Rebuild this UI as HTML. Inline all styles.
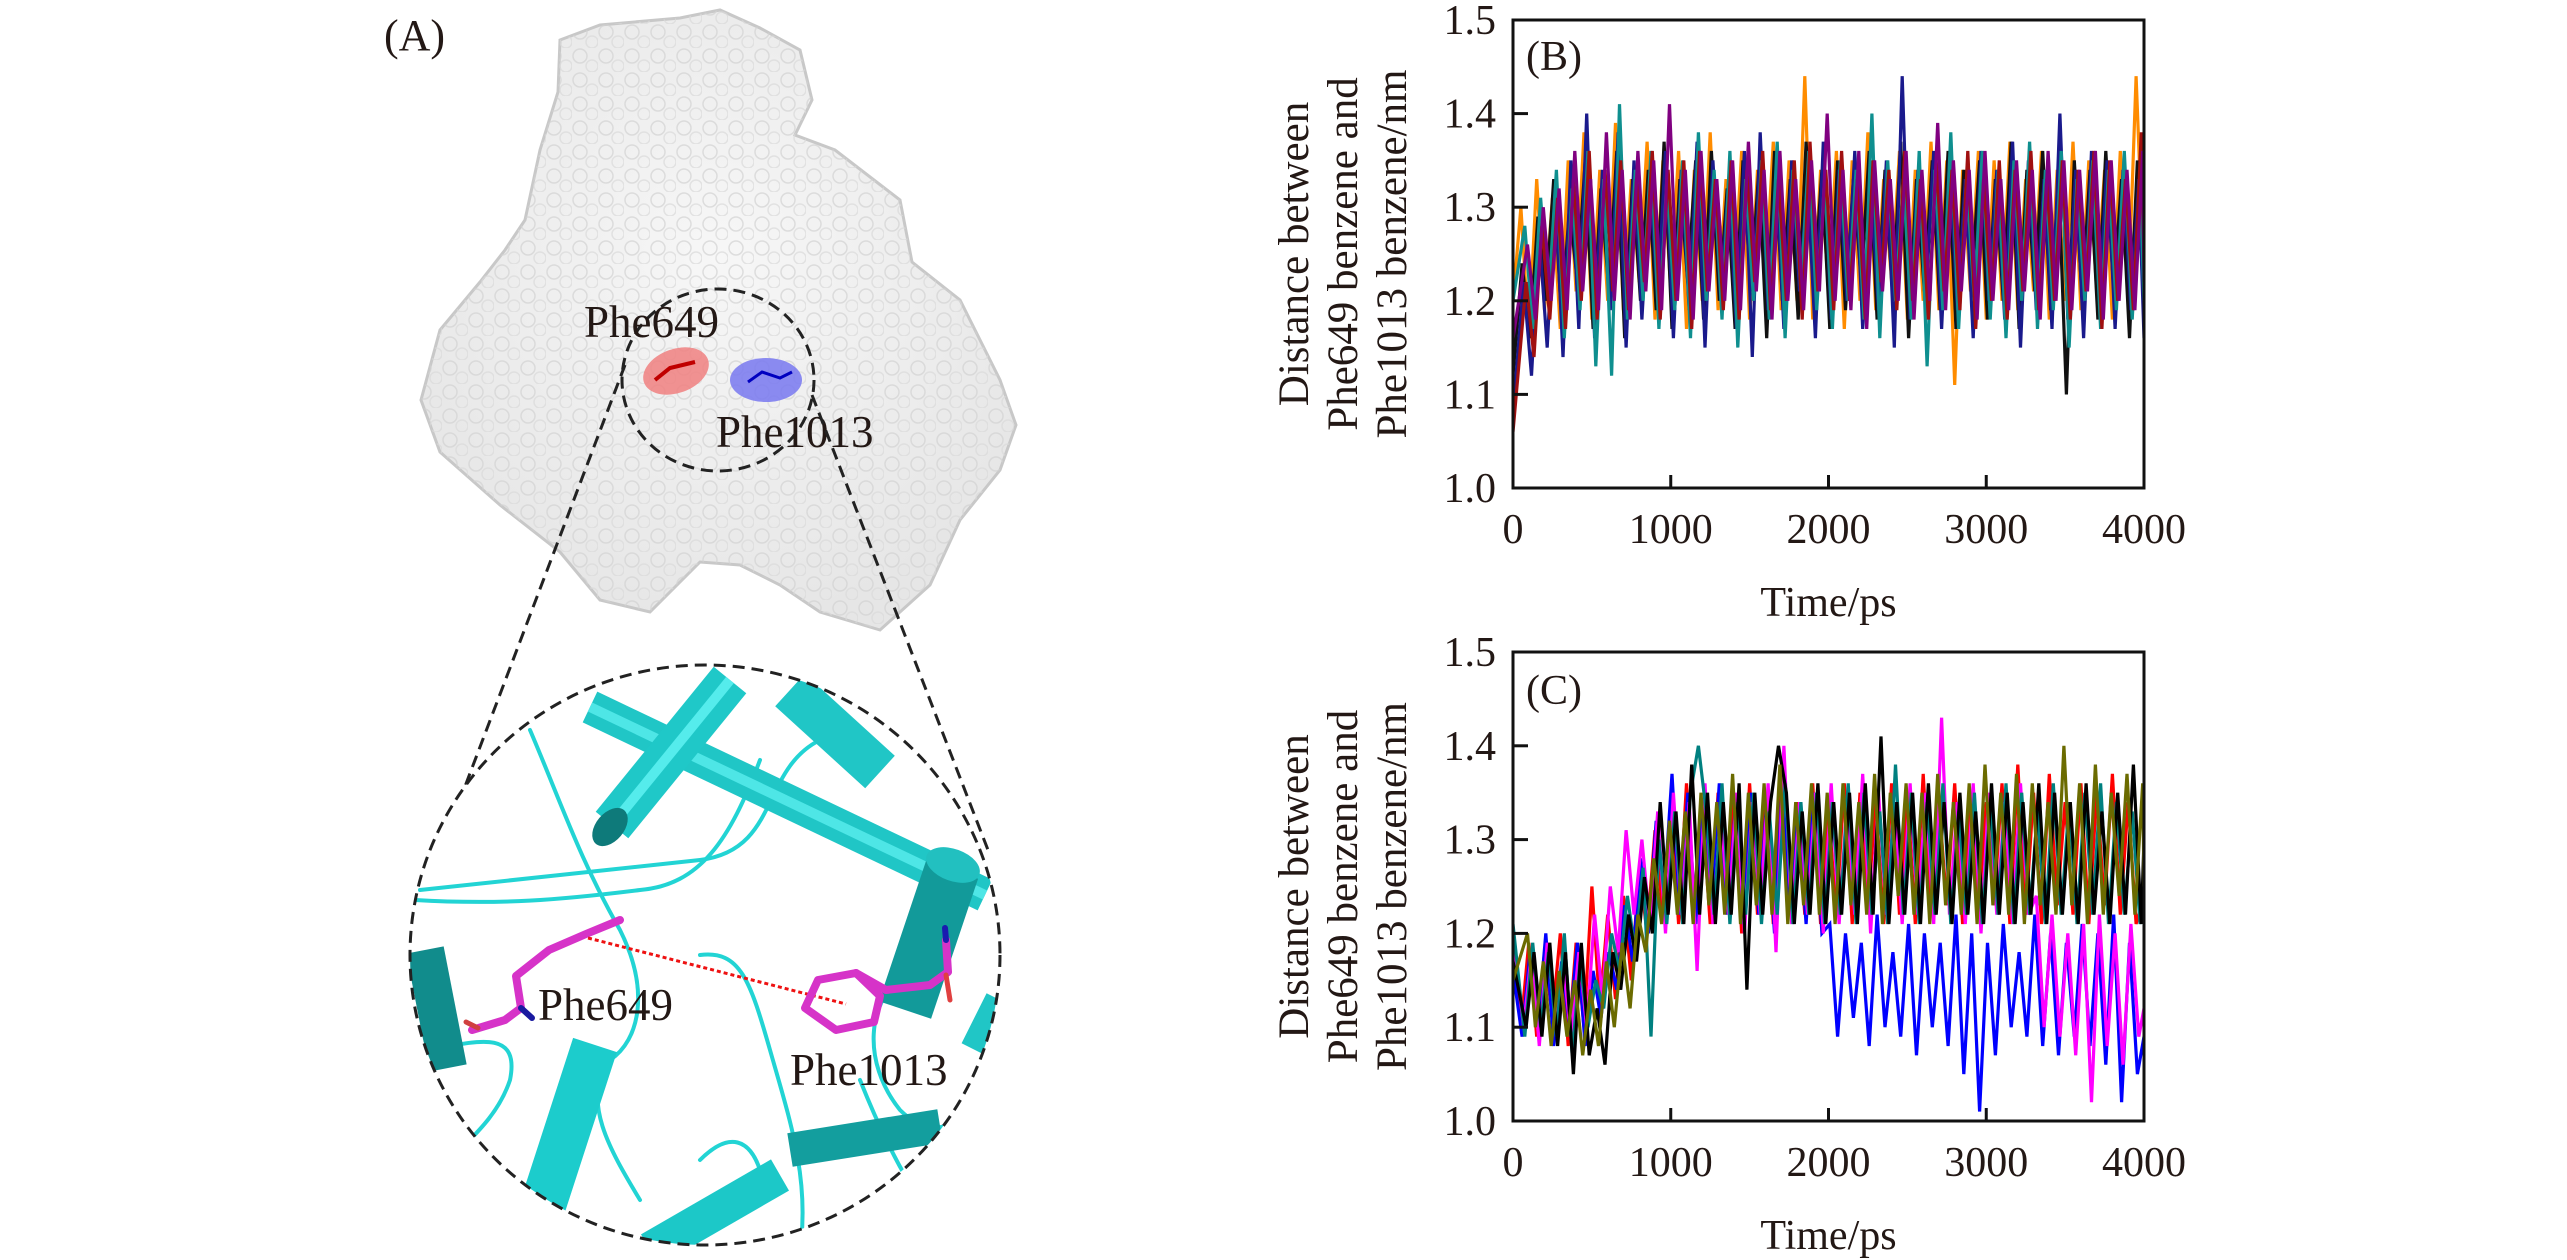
<!DOCTYPE html>
<html><head><meta charset="utf-8">
<style>
html,body{margin:0;padding:0;background:#fff;}
svg{display:block;}
text{font-family:"Liberation Serif",serif;fill:#231815;}
</style></head>
<body>
<svg id="fig" width="2567" height="1260" viewBox="0 0 2567 1260" xmlns="http://www.w3.org/2000/svg">
<defs>
  <radialGradient id="surf" cx="50%" cy="40%" r="60%">
    <stop offset="0" stop-color="#f7f7f7"/><stop offset="1" stop-color="#e6e6e6"/>
  </radialGradient>
  <pattern id="bumps" width="26" height="24" patternUnits="userSpaceOnUse">
    <circle cx="8" cy="8" r="7" fill="none" stroke="#d2d2d2" stroke-width="1.5"/>
    <circle cx="20" cy="18" r="6" fill="none" stroke="#dadada" stroke-width="1.5"/>
  </pattern>
  <clipPath id="bigclip"><ellipse cx="705" cy="955" rx="295" ry="290"/></clipPath>
  <clipPath id="clipB"><rect x="1513" y="20" width="631" height="468"/></clipPath>
  <clipPath id="clipC"><rect x="1513" y="652" width="631" height="469"/></clipPath>
</defs>

<!-- Panel A -->
<g>
  <text x="384" y="50" font-size="44">(A)</text>
  <g>
    <path d="M560,40 L600,25 L680,18 L720,10 L760,28 L800,50 L812,100 L795,135 L835,150 L900,200 L912,262 L960,300 L1000,380 L1016,425 L1000,470 L960,520 L930,585 L880,630 L820,612 L780,585 L740,565 L700,562 L650,612 L600,600 L560,552 L500,505 L440,452 L421,400 L440,330 L480,282 L505,250 L525,220 L540,150 L558,92 Z" fill="url(#surf)" stroke="#c8c8c8" stroke-width="3"/>
    <path d="M560,40 L600,25 L680,18 L720,10 L760,28 L800,50 L812,100 L795,135 L835,150 L900,200 L912,262 L960,300 L1000,380 L1016,425 L1000,470 L960,520 L930,585 L880,630 L820,612 L780,585 L740,565 L700,562 L650,612 L600,600 L560,552 L500,505 L440,452 L421,400 L440,330 L480,282 L505,250 L525,220 L540,150 L558,92 Z" fill="url(#bumps)" opacity="0.7"/>
  </g>
  <ellipse cx="676" cy="371" rx="34" ry="22" fill="#f08080" opacity="0.85" transform="rotate(-20 676 371)"/>
  <path d="M655,380 L670,368 L695,362" stroke="#c00000" stroke-width="4" fill="none"/>
  <ellipse cx="766" cy="380" rx="36" ry="22" fill="#7878f0" opacity="0.85"/>
  <path d="M748,382 L762,372 L780,378 L792,372" stroke="#0000c0" stroke-width="3" fill="none"/>
  <ellipse cx="718" cy="380" rx="96" ry="91" fill="none" stroke="#222" stroke-width="3" stroke-dasharray="12,7"/>
  <text x="584" y="337" font-size="45">Phe649</text>
  <text x="716" y="447" font-size="45">Phe1013</text>
  <line x1="625" y1="365" x2="420" y2="905" stroke="#222" stroke-width="3" stroke-dasharray="12,7"/>
  <line x1="812" y1="395" x2="988" y2="850" stroke="#222" stroke-width="3" stroke-dasharray="12,7"/>

  <g clip-path="url(#bigclip)">
    <ellipse cx="705" cy="955" rx="295" ry="290" fill="#fff"/>
    <g fill="none" stroke="#22d4d4" stroke-width="4" stroke-linecap="round">
      <path d="M420,890 C520,880 600,870 700,860 C780,850 760,770 820,740"/>
      <path d="M415,900 C500,905 560,900 640,890 C700,885 730,840 760,760"/>
      <path d="M530,730 C560,800 580,860 620,930 C650,990 640,1040 610,1060 C580,1100 610,1150 640,1200"/>
      <path d="M700,955 C740,950 750,980 770,1050 C790,1120 810,1180 800,1250"/>
      <path d="M860,1080 C880,1130 900,1170 920,1200"/>
      <path d="M430,1050 C480,1040 520,1030 510,1080 C500,1110 480,1130 460,1150"/>
      <path d="M900,980 C870,1000 860,1060 900,1110 C930,1140 960,1130 990,1090"/>
      <path d="M700,1160 C730,1130 750,1140 760,1170"/>
      <path d="M880,700 C930,720 960,780 990,800"/>
    </g>
    <g stroke-linecap="butt" fill="none">
      <line x1="590" y1="707" x2="985" y2="895" stroke="#20c6c6" stroke-width="34"/>
      <line x1="590" y1="707" x2="985" y2="895" stroke="#4ee6e6" stroke-width="10"/>
      <line x1="790" y1="690" x2="880" y2="772" stroke="#20c6c6" stroke-width="44"/>
      <line x1="612" y1="825" x2="730" y2="680" stroke="#1fc8c8" stroke-width="42"/>
      <line x1="612" y1="825" x2="730" y2="680" stroke="#55ecec" stroke-width="10"/>
      <ellipse cx="610" cy="827" rx="22" ry="14" fill="#0e7a7a" transform="rotate(-50 610 827)"/>
      <line x1="952" y1="870" x2="905" y2="1010" stroke="#129a9a" stroke-width="55"/>
      <ellipse cx="953" cy="865" rx="28" ry="16" fill="#22c0c0" transform="rotate(20 953 865)"/>
      <line x1="425" y1="950" x2="448" y2="1068" stroke="#118c8c" stroke-width="38"/>
      <line x1="595" y1="1045" x2="535" y2="1230" stroke="#1ccccc" stroke-width="46"/>
      <line x1="790" y1="1150" x2="940" y2="1126" stroke="#139e9e" stroke-width="34"/>
      <line x1="650" y1="1250" x2="780" y2="1175" stroke="#1cc8c8" stroke-width="36"/>
      <line x1="975" y1="1050" x2="1000" y2="1000" stroke="#20c6c6" stroke-width="30"/>
    </g>
    <g fill="none" stroke="#d633c8" stroke-width="8" stroke-linejoin="round" stroke-linecap="round">
      <polyline points="472,1030 505,1020 521,1008 516,976 549,950 586,934 620,920"/>
      <line x1="466" y1="1022" x2="478" y2="1028" stroke="#d04040" stroke-width="5"/>
      <line x1="521" y1="1008" x2="532" y2="1018" stroke="#1a1aa0" stroke-width="6"/>
    </g>
    <line x1="588" y1="938" x2="846" y2="1004" stroke="#ee1111" stroke-width="3" stroke-dasharray="4,3"/>
    <g fill="none" stroke="#d633c8" stroke-width="8" stroke-linejoin="round" stroke-linecap="round">
      <polygon points="818,980 856,973 880,996 874,1022 836,1030 805,1008"/>
      <polyline points="856,973 886,990 930,985 948,972 946,940"/>
      <line x1="946" y1="940" x2="945" y2="928" stroke="#1a1ab0" stroke-width="6"/>
      <line x1="946" y1="975" x2="950" y2="1000" stroke="#e04040" stroke-width="5"/>
    </g>
  </g>
  <ellipse cx="705" cy="955" rx="295" ry="290" fill="none" stroke="#222" stroke-width="3" stroke-dasharray="12,7"/>
  <text x="538" y="1020" font-size="45">Phe649</text>
  <text x="790" y="1085" font-size="45">Phe1013</text>
</g>

<g id="chartB"></g>
<g id="chartC"></g>
</svg>

<script>
const xTicks = [0, 1000, 2000, 3000, 4000];
const yTicks = [1.0, 1.1, 1.2, 1.3, 1.4, 1.5];
const yTickLabels = ["1.0", "1.1", "1.2", "1.3", "1.4", "1.5"];
const timeStep = 50;
const timeOffsetsB = [0, 8, 17, 25, 33, 42];
const timeOffsetsC = [0, 8, 17, 25, 33, 42];

const bSeriesNames = ["orange", "black", "navy", "teal", "darkred", "purple"];
const bColors = ["#ff8c00", "#111111", "#1a1a8c", "#0f8f8f", "#a01010", "#800080"];
const bOrange = [1.20,1.30,1.16,1.33,1.19,1.31,1.17,1.35,1.21,1.38,1.18,1.34,1.20,1.39,1.19,1.33,1.22,1.37,1.18,1.35,1.21,1.36,1.17,1.34,1.20,1.38,1.19,1.33,1.21,1.36,1.18,1.34,1.22,1.37,1.19,1.35,1.20,1.44,1.18,1.34,1.21,1.36,1.17,1.35,1.20,1.38,1.19,1.33,1.22,1.36,1.18,1.34,1.20,1.37,1.19,1.35,1.11,1.34,1.21,1.36,1.18,1.35,1.20,1.37,1.19,1.33,1.21,1.36,1.18,1.34,1.20,1.37,1.19,1.35,1.21,1.34,1.18,1.36,1.20,1.44,1.22];
const bBlack = [1.12,1.24,1.16,1.29,1.20,1.33,1.18,1.30,1.22,1.35,1.17,1.32,1.21,1.36,1.16,1.33,1.20,1.34,1.19,1.37,1.17,1.33,1.22,1.35,1.18,1.36,1.20,1.32,1.17,1.35,1.21,1.34,1.16,1.36,1.20,1.33,1.18,1.37,1.21,1.34,1.17,1.35,1.19,1.33,1.22,1.36,1.18,1.34,1.20,1.37,1.16,1.33,1.21,1.35,1.19,1.36,1.17,1.34,1.22,1.35,1.18,1.33,1.20,1.37,1.17,1.34,1.21,1.36,1.19,1.33,1.10,1.35,1.20,1.34,1.18,1.36,1.21,1.33,1.16,1.35,1.20];
const bNavy = [1.08,1.22,1.12,1.27,1.15,1.32,1.14,1.35,1.17,1.40,1.16,1.34,1.19,1.38,1.15,1.35,1.18,1.33,1.20,1.36,1.16,1.34,1.19,1.37,1.15,1.35,1.20,1.33,1.17,1.36,1.14,1.38,1.19,1.34,1.17,1.35,1.21,1.33,1.16,1.37,1.18,1.34,1.20,1.36,1.17,1.33,1.19,1.35,1.15,1.44,1.18,1.34,1.20,1.36,1.17,1.35,1.19,1.33,1.16,1.36,1.20,1.34,1.18,1.37,1.15,1.35,1.19,1.33,1.17,1.40,1.18,1.34,1.16,1.36,1.20,1.35,1.17,1.34,1.19,1.33,1.16];
const bTeal = [1.20,1.28,1.17,1.31,1.20,1.34,1.16,1.32,1.19,1.36,1.13,1.33,1.12,1.41,1.18,1.34,1.20,1.36,1.17,1.33,1.19,1.35,1.16,1.38,1.20,1.34,1.18,1.36,1.15,1.33,1.20,1.35,1.18,1.37,1.16,1.34,1.21,1.36,1.19,1.33,1.17,1.35,1.20,1.34,1.18,1.40,1.16,1.35,1.20,1.33,1.18,1.36,1.13,1.34,1.19,1.38,1.17,1.33,1.20,1.36,1.18,1.34,1.16,1.35,1.20,1.37,1.17,1.34,1.19,1.36,1.15,1.33,1.20,1.35,1.17,1.34,1.19,1.36,1.18,1.33,1.20];
const bDarkRed = [1.06,1.22,1.14,1.28,1.18,1.31,1.17,1.33,1.20,1.36,1.18,1.34,1.21,1.35,1.19,1.33,1.22,1.36,1.18,1.34,1.20,1.35,1.17,1.36,1.21,1.33,1.19,1.35,1.18,1.34,1.22,1.36,1.19,1.33,1.20,1.35,1.18,1.37,1.21,1.34,1.19,1.36,1.20,1.33,1.18,1.35,1.22,1.34,1.19,1.36,1.20,1.33,1.18,1.35,1.21,1.34,1.19,1.36,1.17,1.33,1.20,1.35,1.18,1.34,1.21,1.36,1.19,1.33,1.20,1.35,1.18,1.34,1.21,1.36,1.17,1.35,1.20,1.33,1.19,1.38,1.24];
const bPurple = [1.16,1.26,1.18,1.30,1.20,1.32,1.19,1.36,1.21,1.33,1.19,1.38,1.20,1.34,1.18,1.36,1.21,1.35,1.19,1.41,1.20,1.34,1.18,1.36,1.21,1.33,1.20,1.35,1.19,1.37,1.21,1.34,1.18,1.36,1.20,1.33,1.19,1.35,1.21,1.40,1.20,1.34,1.19,1.36,1.17,1.35,1.21,1.33,1.20,1.36,1.18,1.34,1.20,1.39,1.19,1.35,1.21,1.34,1.18,1.36,1.20,1.33,1.19,1.35,1.21,1.34,1.18,1.36,1.20,1.35,1.19,1.34,1.21,1.36,1.18,1.35,1.20,1.34,1.19,1.36,1.22];

const cSeriesNames = ["red", "blue", "magenta", "teal", "black", "olive"];
const cColors = ["#ff0000", "#0000ff", "#ff00ff", "#008080", "#000000", "#6b6b00"];
const cRed = [1.18,1.10,1.19,1.09,1.18,1.11,1.20,1.08,1.19,1.10,1.25,1.12,1.22,1.13,1.24,1.15,1.27,1.20,1.31,1.22,1.34,1.21,1.36,1.22,1.33,1.21,1.35,1.23,1.34,1.20,1.36,1.22,1.35,1.21,1.37,1.23,1.34,1.22,1.36,1.21,1.33,1.22,1.36,1.21,1.35,1.23,1.34,1.21,1.36,1.22,1.35,1.21,1.37,1.22,1.34,1.23,1.36,1.21,1.35,1.22,1.34,1.23,1.36,1.21,1.38,1.22,1.35,1.21,1.37,1.23,1.34,1.22,1.36,1.21,1.35,1.23,1.37,1.22,1.34,1.21,1.24];
const cBlue = [1.16,1.09,1.18,1.10,1.20,1.08,1.17,1.10,1.19,1.08,1.16,1.11,1.18,1.14,1.23,1.17,1.28,1.20,1.32,1.24,1.37,1.22,1.35,1.21,1.34,1.23,1.36,1.22,1.33,1.21,1.35,1.22,1.34,1.20,1.36,1.22,1.33,1.21,1.35,1.20,1.21,1.09,1.20,1.11,1.19,1.08,1.22,1.10,1.18,1.09,1.21,1.07,1.20,1.10,1.19,1.08,1.22,1.05,1.20,1.01,1.19,1.07,1.21,1.10,1.18,1.09,1.22,1.08,1.20,1.07,1.19,1.09,1.21,1.08,1.20,1.06,1.22,1.02,1.19,1.05,1.09];
const cMagenta = [1.20,1.10,1.18,1.08,1.19,1.11,1.17,1.09,1.18,1.10,1.22,1.13,1.25,1.18,1.31,1.22,1.30,1.21,1.33,1.20,1.35,1.22,1.34,1.16,1.36,1.21,1.33,1.22,1.35,1.20,1.34,1.22,1.36,1.18,1.40,1.21,1.34,1.22,1.35,1.20,1.36,1.21,1.34,1.22,1.37,1.20,1.35,1.22,1.34,1.21,1.36,1.22,1.35,1.21,1.43,1.22,1.34,1.21,1.36,1.20,1.35,1.22,1.34,1.21,1.36,1.22,1.24,1.10,1.22,1.09,1.20,1.07,1.21,1.02,1.22,1.08,1.20,1.06,1.21,1.09,1.12];
const cTeal = [1.21,1.09,1.19,1.10,1.18,1.09,1.20,1.07,1.17,1.10,1.15,1.12,1.20,1.16,1.24,1.18,1.27,1.09,1.30,1.21,1.33,1.21,1.35,1.40,1.33,1.22,1.36,1.21,1.34,1.22,1.35,1.21,1.33,1.22,1.36,1.21,1.34,1.22,1.35,1.21,1.34,1.22,1.36,1.21,1.35,1.22,1.33,1.21,1.38,1.22,1.35,1.21,1.34,1.22,1.36,1.21,1.33,1.22,1.35,1.21,1.34,1.22,1.36,1.21,1.35,1.22,1.33,1.21,1.36,1.22,1.34,1.21,1.35,1.22,1.36,1.21,1.34,1.22,1.33,1.21,1.24];
const cBlack = [1.17,1.10,1.18,1.09,1.19,1.08,1.18,1.05,1.19,1.07,1.12,1.06,1.18,1.14,1.22,1.17,1.26,1.20,1.34,1.22,1.33,1.21,1.38,1.22,1.35,1.21,1.34,1.22,1.36,1.14,1.35,1.22,1.34,1.40,1.35,1.21,1.33,1.22,1.36,1.21,1.34,1.22,1.35,1.21,1.36,1.22,1.41,1.21,1.34,1.22,1.35,1.21,1.36,1.22,1.34,1.21,1.35,1.22,1.33,1.21,1.36,1.22,1.35,1.21,1.34,1.22,1.36,1.21,1.35,1.22,1.34,1.21,1.36,1.22,1.33,1.21,1.35,1.22,1.38,1.21,1.30];
const cOlive = [1.15,1.20,1.10,1.17,1.08,1.16,1.09,1.15,1.07,1.14,1.08,1.17,1.10,1.19,1.12,1.22,1.18,1.28,1.21,1.32,1.22,1.33,1.21,1.35,1.23,1.34,1.22,1.37,1.21,1.35,1.23,1.36,1.22,1.38,1.21,1.34,1.23,1.36,1.22,1.35,1.21,1.36,1.23,1.34,1.22,1.37,1.21,1.35,1.24,1.36,1.22,1.35,1.21,1.37,1.23,1.34,1.22,1.36,1.21,1.38,1.23,1.35,1.22,1.37,1.21,1.36,1.23,1.34,1.22,1.40,1.23,1.36,1.21,1.38,1.22,1.35,1.24,1.37,1.22,1.36,1.25];

const NS = "http://www.w3.org/2000/svg";
function mk(tag, attrs, parent){
  const e = document.createElementNS(NS, tag);
  for (const k in attrs) e.setAttribute(k, attrs[k]);
  parent.appendChild(e);
  return e;
}

function drawChart(gId, box, series, colors, names, offsets, panelLabel, labelY, clipId, prefix){
  const g = document.getElementById(gId);
  const xS = t => box.x + (t - 0) / 4000 * box.w;
  const yS = v => box.y + box.h - (v - 1.0) / 0.5 * box.h;

  const dataG = mk("g", {"clip-path": "url(#" + clipId + ")"}, g);
  
  
  series.forEach((vals, si) => {
    const pts = vals.map((v, i) => xS(Math.min(4000, i * timeStep + (i > 0 ? offsets[si] : 0))).toFixed(1) + "," + yS(v).toFixed(1)).join(" ");
    const pl = mk("polyline", {points: pts, fill: "none", stroke: colors[si], "stroke-width": 3.2, "stroke-linejoin": "miter"}, dataG);
    
    
  });

  const frame = mk("rect", {x: box.x, y: box.y, width: box.w, height: box.h, fill: "none", stroke: "#111", "stroke-width": 3}, g);
  
  

  yTicks.forEach((v, i) => {
    const yy = yS(v);
    if (i > 0 && i < yTicks.length - 1) {
      const tk = mk("line", {x1: box.x, x2: box.x + 15, y1: yy, y2: yy, stroke: "#111", "stroke-width": 3}, g);
      
      
    }
    const t = mk("text", {x: box.x - 17, y: yy + 14, "font-size": 42, "text-anchor": "end"}, g);
    t.textContent = yTickLabels[i];
    
    
  });
  xTicks.forEach((v, i) => {
    const xx = xS(v);
    if (i > 0 && i < xTicks.length - 1) {
      const tk = mk("line", {x1: xx, x2: xx, y1: box.y + box.h, y2: box.y + box.h - 13, stroke: "#111", "stroke-width": 3}, g);
      
      
    }
    const t = mk("text", {x: xx, y: box.y + box.h + 55, "font-size": 42, "text-anchor": "middle"}, g);
    t.textContent = String(v);
    
    
  });

  const xt = mk("text", {x: box.x + box.w / 2, y: box.y + box.h + 128, "font-size": 42, "text-anchor": "middle"}, g);
  xt.textContent = "Time/ps";
  
  

  const ytitle = ["Distance between", "Phe649 benzene and", "Phe1013 benzene/nm"];
  const cy = box.y + box.h / 2;
  const ytg = mk("g", {}, g);
  
  
  ytitle.forEach((s, i) => {
    const cx = 1308 + i * 49;
    const t = mk("text", {x: cx, y: cy, "font-size": 43, "text-anchor": "middle", transform: "rotate(-90 " + cx + " " + cy + ")"}, ytg);
    t.textContent = s;
  });

  const pl = mk("text", {x: box.x + 13, y: labelY, "font-size": 42}, g);
  pl.textContent = panelLabel;
  
  
}

drawChart("chartB", {x: 1513, y: 20, w: 631, h: 468},
  [bOrange, bBlack, bNavy, bTeal, bDarkRed, bPurple], bColors, bSeriesNames, timeOffsetsB, "(B)", 70, "clipB", "chart-b");
drawChart("chartC", {x: 1513, y: 652, w: 631, h: 469},
  [cRed, cBlue, cMagenta, cTeal, cBlack, cOlive], cColors, cSeriesNames, timeOffsetsC, "(C)", 704, "clipC", "chart-c");
</script>
</body></html>
